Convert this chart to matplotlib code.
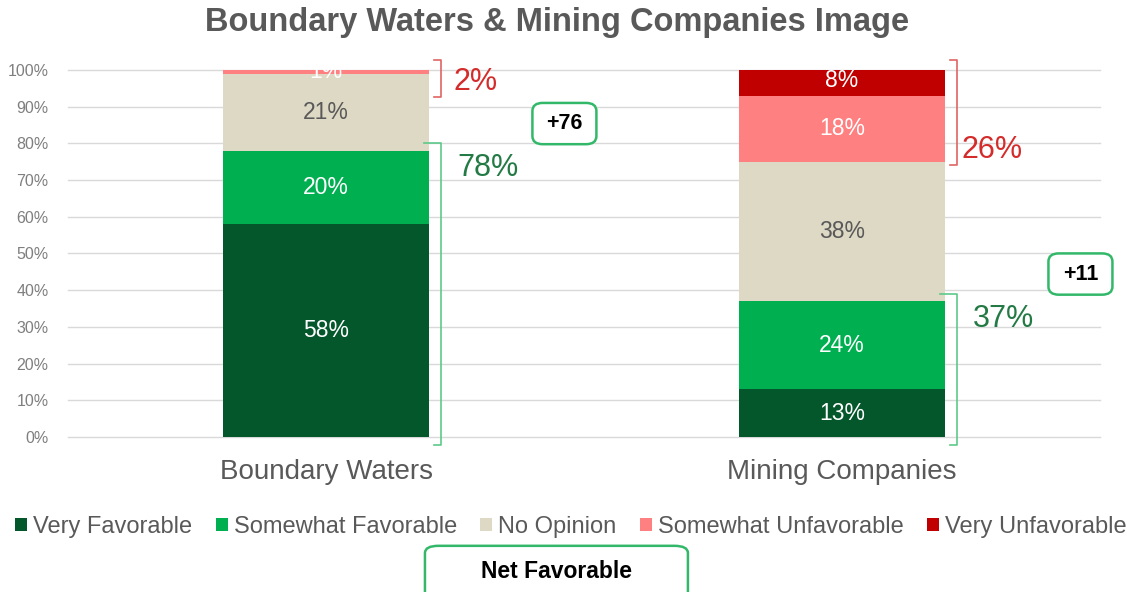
import matplotlib
matplotlib.use("Agg")
import matplotlib.pyplot as plt
from matplotlib.patches import FancyBboxPatch
import numpy as np

plt.rcParams['font.family'] = ['Liberation Sans', 'DejaVu Sans']

# data
categories = ['Boundary Waters', 'Mining Companies']
series_names = ['Very Favorable', 'Somewhat Favorable', 'No Opinion',
                'Somewhat Unfavorable', 'Very Unfavorable']
very_fav = [58, 13]
some_fav = [20, 24]
no_opinion = [21, 38]
some_unfav = [1, 18]
very_unfav = [0, 8]
fav_total = [78, 37]
unfav_total = [2, 26]

colors = ['#03572B', '#00B050', '#DDD9C4', '#FF8080', '#C00000']
label_colors = ['white', 'white', '#595959', 'white', 'white']
series = [very_fav, some_fav, no_opinion, some_unfav, very_unfav]

fig = plt.figure(figsize=(11.35, 5.92), dpi=100)
ax = fig.add_axes([0.0599, 0.2618, 0.9093, 0.62])

x = np.arange(len(categories))
bw = 0.4
bottom = np.zeros(len(categories))
for vals, col, lc, name in zip(series, colors, label_colors, series_names):
    vals = np.array(vals, dtype=float)
    ax.bar(x, vals, bw, bottom=bottom, color=col, label=name, zorder=3)
    for i, v in enumerate(vals):
        if v > 0:
            ax.text(x[i], bottom[i] + v / 2, f'{v:.0f}%', ha='center', va='center',
                    color=lc, fontsize=16.5, zorder=4)
    bottom += vals

ax.set_xlim(-0.5, 1.5)
ax.set_ylim(0, 100)
ax.set_yticks(np.arange(0, 101, 10))
ax.set_yticklabels([f'{t}%' for t in range(0, 101, 10)], fontsize=11.5, color='#7f7f7f')
ax.tick_params(axis='y', length=0, pad=14)
ax.set_xticks(x)
ax.set_xticklabels(categories, fontsize=20, color='#595959')
ax.tick_params(axis='x', length=0, pad=16)
ax.grid(axis='y', color='#d9d9d9', linewidth=1, zorder=0)
for gl in ax.get_ygridlines():
    gl.set_clip_on(False)
for s in ax.spines.values():
    s.set_visible(False)

green_br = '#5cc98a'
red_br = '#e06464'
for i in x:
    xe = i + bw / 2 - 0.01
    xv = i + bw / 2 + 0.023
    # favorable bracket
    top = fav_total[i] + 2
    ax.plot([xe, xv, xv, xe + 0.02], [top, top, -2.2, -2.2], color=green_br,
            lw=1.2, clip_on=False, zorder=5)
    ax.text(i + 0.313, top - 6.8, f'{fav_total[i]}%', ha='center', va='center',
            fontsize=22, color='#237a45')
    # unfavorable bracket
    ub = min(100 - unfav_total[i], 92.6)
    ax.plot([xe + 0.02, xv, xv, xe + 0.02], [102.7, 102.7, ub, ub], color=red_br,
            lw=1.2, clip_on=False, zorder=5)
    ax.text(i + 0.29, ub + 4.2, f'{unfav_total[i]}%', ha='center', va='center',
            fontsize=22, color='#d42b2b')
    # net box
    net = fav_total[i] - unfav_total[i]
    bx, by = i + 0.462, fav_total[i] + 7.4
    ax.add_patch(FancyBboxPatch((bx - 0.05, by - 4.3), 0.1, 8.6,
                                boxstyle='round,pad=0.012,rounding_size=0.02',
                                mutation_aspect=110, fc='white', ec='#33b86a', lw=1.8,
                                clip_on=False, zorder=5))
    ax.text(bx, by, f'+{net}', ha='center', va='center', fontsize=15.5,
            fontweight='bold', color='black', zorder=6)

fig.text(0.491, 0.962, 'Boundary Waters & Mining Companies Image', ha='center',
         va='center', fontsize=23.5, fontweight='bold', color='#595959')

leg = fig.legend(loc='center', bbox_to_anchor=(0.503, 0.11), ncol=5, frameon=False,
                 fontsize=17, handlelength=0.5, handleheight=0.5, handletextpad=0.25,
                 columnspacing=1.0, borderaxespad=0)
for t in leg.get_texts():
    t.set_color('#595959')

fig.patches.append(FancyBboxPatch((0.3744, -0.02), 0.2317, 0.098,
                                  boxstyle='round,pad=0.0,rounding_size=0.012',
                                  transform=fig.transFigure, fc='white', ec='#33b86a',
                                  lw=1.8, figure=fig))
fig.text(0.49, 0.035, 'Net Favorable', ha='center', va='center', fontsize=16.5,
         fontweight='bold', color='black')

fig.savefig('out.png', dpi=100)
